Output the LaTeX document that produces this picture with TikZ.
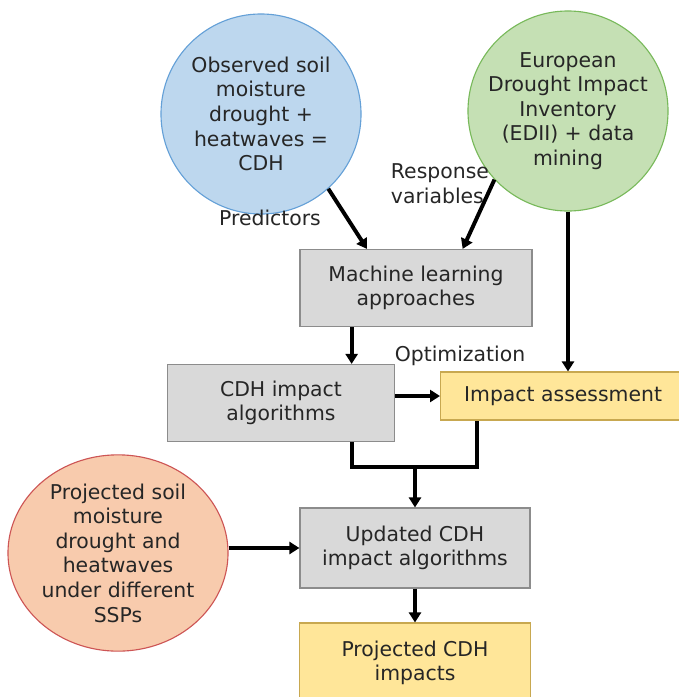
\documentclass[tikz,border=0pt]{standalone}
\usepackage{fontspec}
\setmainfont{DejaVu Sans}
\usetikzlibrary{calc,shapes.geometric,arrows.meta}

\definecolor{obsfill}{RGB}{189,215,238}
\definecolor{obsdraw}{RGB}{100,160,215}
\definecolor{ediifill}{RGB}{197,224,180}
\definecolor{ediidraw}{RGB}{120,185,90}
\definecolor{sspfill}{RGB}{248,203,173}
\definecolor{sspdraw}{RGB}{205,85,85}
\definecolor{procfill}{RGB}{217,217,217}
\definecolor{procdraw}{RGB}{140,140,140}
\definecolor{resfill}{RGB}{255,230,153}
\definecolor{resdraw}{RGB}{200,168,80}
\definecolor{txt}{RGB}{38,38,38}

\begin{document}
\begin{tikzpicture}[x=0.025cm,y=-0.025cm,font=\fontsize{14.5}{17.5}\selectfont,text=txt]

\tikzstyle{observed} = [circle, minimum size=5cm, inner sep=0pt, align=center, fill=obsfill, draw=obsdraw, thick]
\tikzstyle{inventory} = [circle, minimum size=5cm, inner sep=0pt, align=center, fill=ediifill, draw=ediidraw, thick]
\tikzstyle{projected} = [ellipse, minimum width=5.5cm, minimum height=4.7cm, inner sep=0pt, align=center, fill=sspfill, draw=sspdraw, thick]
\tikzstyle{process} = [rectangle, align=center, fill=procfill, draw=procdraw, thick]
\tikzstyle{result} = [rectangle, align=center, fill=resfill, draw=resdraw, thick]

\tikzstyle{arrow} = [line width=2.8pt,-{Triangle[length=2.5mm,width=3mm]}]
\tikzstyle{line} = [line width=2.8pt]

\useasboundingbox (0,0) rectangle (678,697);

\node (obs) [observed] at (261,114) {Observed soil\\moisture\\drought +\\heatwaves =\\CDH};
\node (edii) [inventory] at (568,111) {European\\Drought Impact\\Inventory\\(EDII) + data\\mining};
\node (ml) [process, minimum width=5.8cm, minimum height=1.925cm] at (416,288) {Machine learning\\approaches};
\node (alg) [process, minimum width=5.675cm, minimum height=1.925cm] at (281,403) {CDH impact\\algorithms};
\node (ia) [result, minimum width=6.125cm, minimum height=1.2cm, anchor=west] at (440,396) {Impact assessment};
\node (upd) [process, minimum width=5.75cm, minimum height=2cm] at (415,548) {Updated CDH\\impact algorithms};
\node (psm) [projected] at (118,553) {Projected soil\\moisture\\drought and\\heatwaves\\under different\\SSPs};
\node (proj) [result, minimum width=5.775cm, minimum height=2cm] at (415,663) {Projected CDH\\impacts};

\node (pred) at (270,218) {Predictors};
\node (resp) [align=left, anchor=west] at (386,184) {Response\\variables};
\node (opt) at (460,356) {Optimization};

\coordinate (mlleft) at ($(ml.north west)!0.29!(ml.north east)$);
\coordinate (mlright) at ($(ml.north west)!0.7!(ml.north east)$);
\coordinate (mldown) at ($(ml.south west)!0.224!(ml.south east)$);
\coordinate (algdown) at ($(alg.south west)!0.81!(alg.south east)$);
\coordinate (iadown) at ($(ia.south west)!0.151!(ia.south east)$);
\coordinate (merge) at ($(upd.north)+(0,-40)$);

\draw [arrow] (obs.-48) -- (mlleft);
\draw [arrow] (edii.-137) -- (mlright);
\draw [arrow, line width=2.2pt] (edii.south) -- (edii.south |- ia.north);
\draw [arrow] (mldown) -- (mldown |- alg.north);
\draw [arrow] (alg.east |- ia.west) -- (ia.west);
\draw [line] (algdown) |- (merge) -| (iadown);
\draw [arrow] (merge) -- (upd.north);
\draw [arrow] (psm.east |- upd.west) -- (upd.west);
\draw [arrow] (upd.south) -- (proj.north);

\end{tikzpicture}
\end{document}
